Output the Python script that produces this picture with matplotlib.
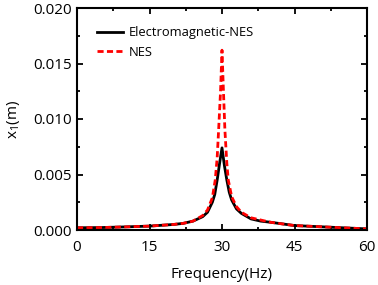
import matplotlib
matplotlib.use("Agg")
import matplotlib.pyplot as plt
from matplotlib.ticker import MultipleLocator

plt.rcParams['font.family'] = ['Open Sans', 'DejaVu Sans']
plt.rcParams['mathtext.fontset'] = 'custom'
plt.rcParams['mathtext.rm'] = 'Open Sans'

freq_em = [0, 5, 10, 15, 20, 22, 24, 26, 27, 28, 28.5, 29, 29.5, 30, 30.5, 31, 31.5, 32, 33, 34, 36, 38, 40, 45, 50, 55, 60]
x1_em = [0.0002, 0.00022, 0.00028, 0.00035, 0.0005, 0.0006, 0.0008, 0.0012, 0.0016, 0.0025, 0.0032, 0.0045, 0.0060, 0.0074,
         0.0058, 0.0045, 0.0034, 0.0027, 0.0019, 0.0015, 0.0010, 0.0008, 0.0007, 0.0004, 0.0003, 0.0002, 0.0001]

freq_nes = [0, 5, 10, 15, 20, 22, 24, 26, 27, 28, 28.6, 29, 29.3, 29.7, 30, 30.3, 30.6, 31, 31.3, 32, 33, 34, 36, 38, 40, 45, 50, 55, 60]
x1_nes = [0.0002, 0.00022, 0.00028, 0.00035, 0.0005, 0.0006, 0.0008, 0.0013, 0.0018, 0.0029, 0.0045, 0.0065, 0.009, 0.0125,
          0.0162, 0.0125, 0.009, 0.006, 0.0045, 0.003, 0.0021, 0.0016, 0.0011, 0.0009, 0.0007, 0.0004, 0.0003, 0.0002, 0.0001]

x_ticks = [0, 15, 30, 45, 60]
y_ticks = [0.000, 0.005, 0.010, 0.015, 0.020]

fig = plt.figure(figsize=(3.78, 2.85), dpi=100)
ax = fig.add_axes([77/378, 1 - 230/285, 290/378, 222/285])

ax.plot(freq_em, x1_em, color='black', lw=2, label='Electromagnetic-NES')
ax.plot(freq_nes, x1_nes, color='red', lw=2, ls=(0, (2.2, 1.2)), label='NES')

ax.set_xlim(0, 60)
ax.set_ylim(0, 0.020)
ax.set_xticks(x_ticks)
ax.set_yticks(y_ticks)
ax.set_yticklabels([f"{v:.3f}" for v in y_ticks])
ax.xaxis.set_minor_locator(MultipleLocator(7.5))
ax.yaxis.set_minor_locator(MultipleLocator(0.0025))
ax.tick_params(which='both', direction='in', top=True, right=True, labelsize=11, width=1.3)
ax.tick_params(which='major', length=4)
ax.tick_params(which='minor', length=2.5)
ax.tick_params(axis='x', pad=7)
for s in ax.spines.values():
    s.set_linewidth(1.5)

ax.set_xlabel('Frequency(Hz)', fontsize=11, labelpad=9)
ax.set_ylabel('x$_1$(m)', fontsize=11, labelpad=8)

ax.legend(loc='upper left', frameon=False, fontsize=9.3, handlelength=2.0, handletextpad=0.4,
          bbox_to_anchor=(0.03, 0.97), labelspacing=0.5)

fig.savefig('out.png', dpi=100)
